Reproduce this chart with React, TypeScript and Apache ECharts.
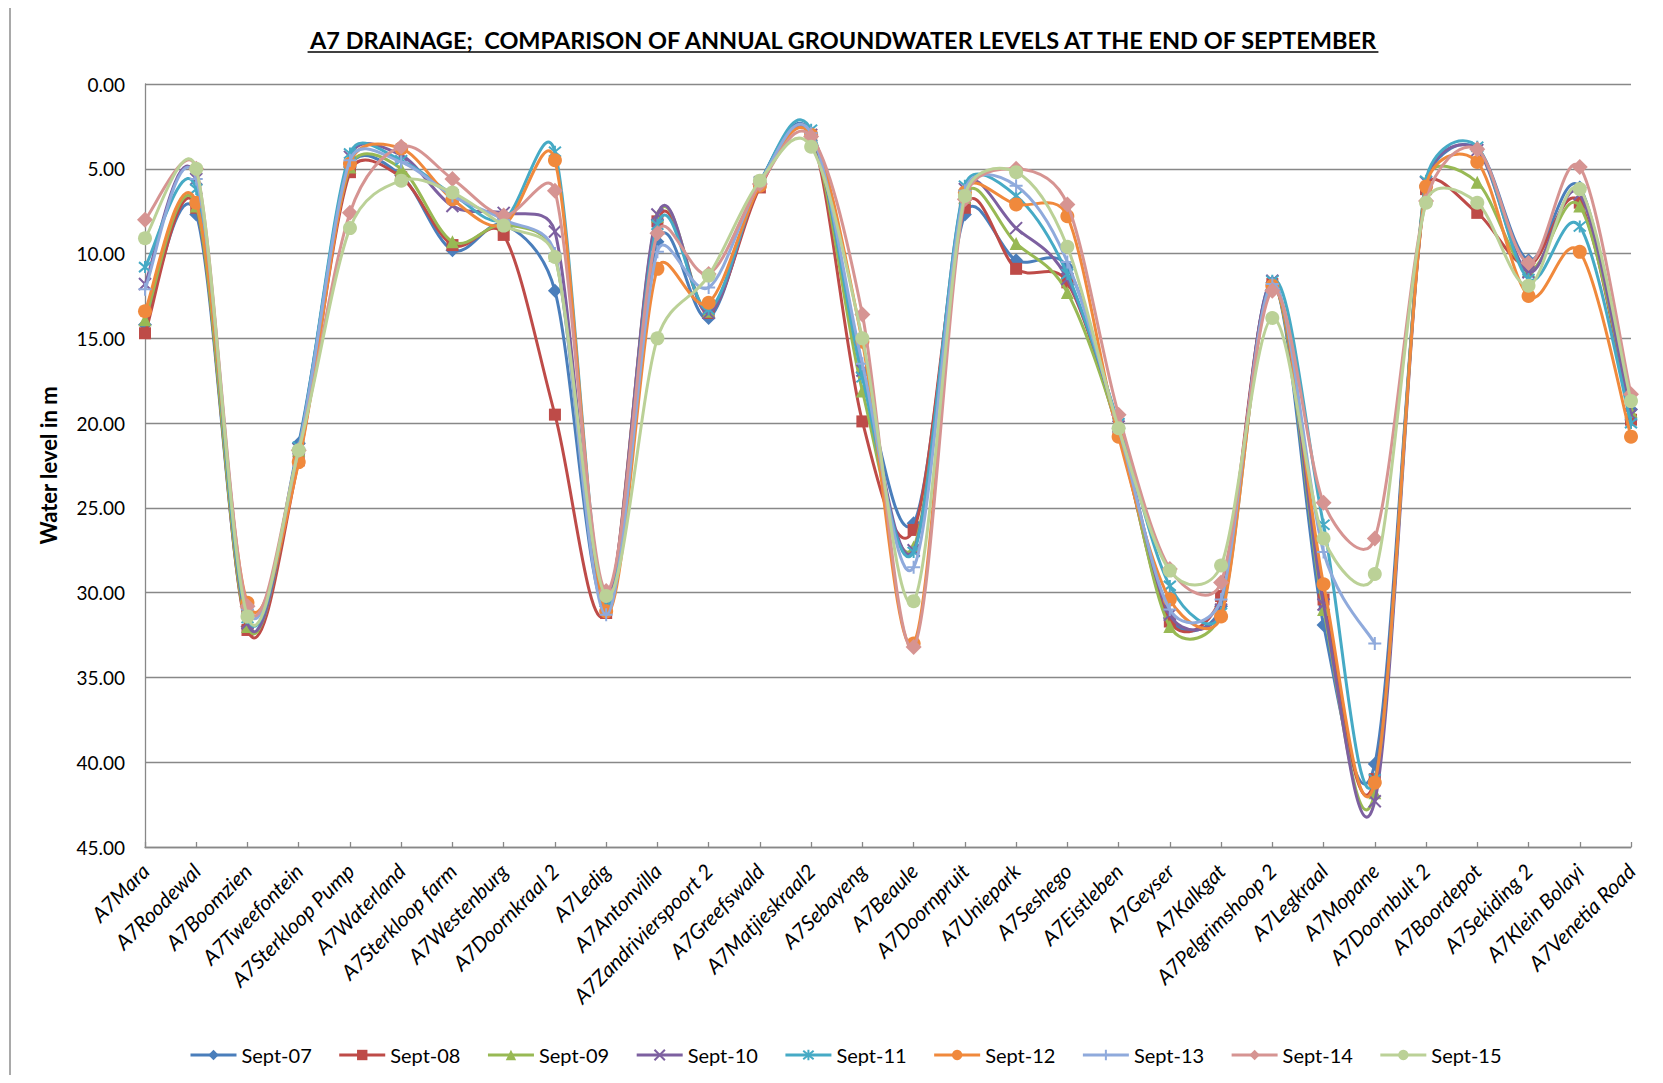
import React, { useEffect, useRef } from "react";
import * as echarts from "echarts";

const categories = [
  "A7Mara", "A7Roodewal", "A7Boomzien", "A7Tweefontein", "A7Sterkloop Pump",
  "A7Waterland", "A7Sterkloop farm", "A7Westenburg", "A7Doornkraal 2", "A7Ledig",
  "A7Antonvilla", "A7Zandrivierspoort 2", "A7Greefswald", "A7Matjieskraal2", "A7Sebayeng",
  "A7Beaule", "A7Doornpruit", "A7Uniepark", "A7Seshego", "A7Eistleben",
  "A7Geyser", "A7Kalkgat", "A7Pelgrimshoop 2", "A7Legkraal", "A7Mopane",
  "A7Doornbult 2", "A7Boordepot", "A7Sekiding 2", "A7Klein Bolayi", "A7Venetia Road",
];

const seriesNames = ["Sept-07", "Sept-08", "Sept-09", "Sept-10", "Sept-11", "Sept-12", "Sept-13", "Sept-14", "Sept-15"];

const sept07 = [14.2, 7.7, 32.0, 21.2, 4.9, 5.4, 9.8, 8.3, 12.2, 30.8, 9.3, 13.8, 5.8, 2.9, 17.0, 25.9, 7.7, 10.4, 10.8, 20.3, 31.5, 30.8, 11.7, 31.9, 40.1, 6.0, 3.8, 10.4, 6.1, 19.2];
const sept08 = [14.7, 7.3, 32.2, 22.2, 5.2, 5.5, 9.5, 8.9, 19.5, 31.2, 8.1, 13.5, 6.1, 3.0, 19.9, 26.3, 7.3, 10.9, 11.7, 20.6, 31.7, 30.2, 11.8, 30.4, 41.0, 6.2, 7.6, 10.7, 7.0, 19.8];
const sept09 = [13.9, 7.2, 32.0, 21.6, 4.9, 5.0, 9.3, 8.3, 10.1, 30.7, 7.8, 13.4, 5.8, 3.0, 18.1, 27.3, 6.7, 9.4, 12.3, 20.5, 32.0, 31.2, 11.8, 31.0, 41.8, 5.7, 5.8, 11.0, 7.2, 19.3];
const sept10 = [11.8, 5.6, 31.8, 21.5, 4.3, 4.2, 7.2, 7.6, 8.7, 30.5, 7.7, 13.5, 5.8, 3.0, 16.9, 27.5, 6.2, 8.5, 11.5, 20.2, 31.3, 31.0, 11.6, 30.7, 42.3, 5.8, 3.9, 11.1, 6.5, 19.5];
const sept11 = [10.8, 6.2, 31.5, 21.4, 4.1, 4.5, 6.5, 8.0, 4.0, 30.8, 8.3, 13.3, 5.8, 2.7, 17.3, 27.6, 6.0, 6.6, 11.2, 20.0, 29.6, 31.2, 11.6, 26.0, 41.0, 5.7, 3.7, 11.5, 8.4, 20.0];
const sept12 = [13.4, 7.0, 30.6, 22.3, 4.7, 3.8, 6.8, 8.3, 4.5, 31.1, 10.9, 12.9, 6.0, 3.0, 15.2, 33.0, 6.4, 7.1, 7.8, 20.8, 30.4, 31.4, 11.9, 29.5, 41.2, 6.05, 4.6, 12.5, 9.9, 20.8];
const sept13 = [12.1, 5.6, 31.0, 21.5, 4.5, 4.6, 6.6, 8.0, 10.0, 31.3, 9.9, 12.0, 5.8, 2.9, 16.5, 28.5, 6.3, 6.0, 10.5, 20.3, 31.0, 30.4, 11.8, 27.6, 33.0, null, null, null, null, null];
const sept14 = [8.0, 5.0, 30.8, 21.6, 7.6, 3.7, 5.6, 7.75, 6.3, 29.9, 8.8, 11.2, 5.9, 3.1, 13.6, 33.2, 6.8, 5.0, 7.1, 19.5, 28.6, 29.4, 12.2, 24.7, 26.8, 6.9, 3.85, 10.55, 4.9, 18.3];
const sept15 = [9.1, 5.0, 31.4, 21.6, 8.5, 5.7, 6.4, 8.35, 10.2, 30.2, 15.0, 11.3, 5.7, 3.7, 15.0, 30.5, 6.6, 5.2, 9.6, 20.3, 28.7, 28.4, 13.8, 26.8, 28.9, 7.0, 7.0, 11.9, 6.2, 18.7];

const seriesData: (number | null)[][] = [sept07, sept08, sept09, sept10, sept11, sept12, sept13, sept14, sept15];

const colors = ["#4A7EBB", "#BE4B48", "#98B954", "#7D60A0", "#46AAC5", "#F0893C", "#8FAADC", "#D69492", "#BBD197"];

const X_PATH = "path://M0,0L10,10M10,0L0,10";
const STAR_PATH = "path://M0,0L10,10M10,0L0,10M5,-1L5,11";
const PLUS_PATH = "path://M0,5L10,5M5,0L5,10";
const symbols = ["diamond", "rect", "triangle", X_PATH, STAR_PATH, "circle", PLUS_PATH, "diamond", "circle"];
const symbolSizes = [14, 12, 13, 12, 12, 14, 13, 16, 14];
const strokeSymbols = [false, false, false, true, true, false, true, false, false];

const yMin = 0;
const yMax = 45;
const yInterval = 5;

const TITLE = "A7 DRAINAGE;  COMPARISON OF ANNUAL GROUNDWATER LEVELS AT THE END OF SEPTEMBER";
const FONT = "Lato, 'Noto Sans', sans-serif";
const LINE_W = 3;

function measure(text: string, font: string): number {
  const c = document.createElement("canvas");
  const ctx = c.getContext("2d");
  if (!ctx) return 1070;
  ctx.font = font;
  return ctx.measureText(text).width;
}

function dist(a: number[], b: number[]) {
  return Math.hypot(a[0] - b[0], a[1] - b[1]);
}

// Excel-like smoothed segment between point i and i+1 (Bezier, tension 1/6, capped)
function makeRenderItem(k: number) {
  return (params: any, api: any) => {
    const arr = seriesData[k];
    const i = params.dataIndex;
    if (i >= arr.length - 1 || arr[i] == null || arr[i + 1] == null) return null;
    const p1 = api.coord([i, arr[i]]);
    const p2 = api.coord([i + 1, arr[i + 1]]);
    const p0 = i > 0 && arr[i - 1] != null ? api.coord([i - 1, arr[i - 1]]) : p1;
    const p3 = i + 2 < arr.length && arr[i + 2] != null ? api.coord([i + 2, arr[i + 2]]) : p2;
    const d12 = dist(p1, p2);
    const d02 = dist(p0, p2);
    const d13 = dist(p1, p3);
    const f1 = d02 > 0 ? Math.min(1 / 6, (0.5 * d12) / d02) : 0;
    const f2 = d13 > 0 ? Math.min(1 / 6, (0.5 * d12) / d13) : 0;
    return {
      type: "bezierCurve",
      shape: {
        x1: p1[0],
        y1: p1[1],
        x2: p2[0],
        y2: p2[1],
        cpx1: p1[0] + (p2[0] - p0[0]) * f1,
        cpy1: p1[1] + (p2[1] - p0[1]) * f1,
        cpx2: p2[0] - (p3[0] - p1[0]) * f2,
        cpy2: p2[1] - (p3[1] - p1[1]) * f2,
      },
      style: { stroke: colors[k], lineWidth: LINE_W, fill: "none", lineCap: "round" },
      silent: true,
    };
  };
}

export default function App() {
  const ref = useRef<HTMLDivElement>(null);

  useEffect(() => {
    if (!ref.current) return;
    const chart = echarts.init(ref.current, undefined, { renderer: "svg" });
    const titleSize = 23.5;
    const tw = measure(TITLE, `bold ${titleSize}px Lato`);
    const tcx = 843;

    const markerSeries = seriesNames.map((name, i) => ({
      name,
      type: "line",
      data: seriesData[i],
      symbol: symbols[i],
      symbolSize: symbolSizes[i],
      showSymbol: true,
      connectNulls: false,
      z: 3 + 2 * i,
      lineStyle: { color: colors[i], width: LINE_W, opacity: 0 },
      itemStyle: {
        color: colors[i],
        borderColor: colors[i],
        borderWidth: strokeSymbols[i] ? 2 : 0,
      },
      emphasis: { disabled: true },
    }));

    const curveSeries = seriesNames.map((name, i) => ({
      name,
      type: "custom",
      z: 2 + 2 * i,
      data: seriesData[i].map((v, j) => [j, v == null ? "-" : v]),
      renderItem: makeRenderItem(i),
      silent: true,
    }));

    chart.setOption({
      animation: false,
      backgroundColor: "#ffffff",
      grid: { left: 145, right: 32, top: 84, bottom: 236, containLabel: false },
      xAxis: {
        type: "category",
        data: categories,
        boundaryGap: false,
        axisLine: { onZero: false, lineStyle: { color: "#888888", width: 1.3 } },
        axisTick: { show: true, inside: true, length: 5, lineStyle: { color: "#888888", width: 1.3 } },
        axisLabel: {
          interval: 0,
          rotate: 45,
          fontFamily: FONT,
          fontStyle: "italic",
          fontSize: 21,
          color: "#000000",
          margin: 20,
        },
        splitLine: { show: false },
      },
      yAxis: {
        type: "value",
        inverse: true,
        min: yMin,
        max: yMax,
        interval: yInterval,
        name: "Water level in m",
        nameLocation: "middle",
        nameGap: 86,
        nameTextStyle: { fontFamily: FONT, fontWeight: "bold", fontSize: 22, color: "#000000" },
        axisLine: { show: true, lineStyle: { color: "#888888", width: 1.3 } },
        axisTick: { show: false },
        axisLabel: {
          formatter: (v: number) => v.toFixed(2),
          fontFamily: FONT,
          fontSize: 19,
          color: "#000000",
          margin: 20,
        },
        splitLine: { show: true, lineStyle: { color: "#888888", width: 1.3 } },
      },
      legend: {
        data: seriesNames,
        left: 184,
        top: 1040,
        itemWidth: 46,
        itemHeight: 13,
        itemGap: 26,
        lineStyle: { opacity: 1, width: LINE_W },
        textStyle: { fontFamily: FONT, fontSize: 20, color: "#000000" },
      },
      graphic: [
        { type: "line", shape: { x1: 10, y1: 6, x2: 1663, y2: 6 }, style: { stroke: "#8c8c8c", lineWidth: 1.5 } },
        { type: "line", shape: { x1: 10, y1: 6, x2: 10, y2: 1083 }, style: { stroke: "#8c8c8c", lineWidth: 1.5 } },
        {
          type: "text",
          x: tcx,
          y: 40,
          style: {
            text: TITLE,
            font: `bold ${titleSize}px Lato`,
            fill: "#000000",
            textAlign: "center",
            textVerticalAlign: "middle",
          },
        },
        {
          type: "line",
          shape: { x1: tcx - tw / 2, y1: 52, x2: tcx + tw / 2, y2: 52 },
          style: { stroke: "#000000", lineWidth: 1.6 },
        },
      ],
      series: [...markerSeries, ...curveSeries],
    });

    return () => {
      chart.dispose();
    };
  }, []);

  return <div ref={ref} style={{ width: 1663, height: 1083, margin: -8 }} />;
}
